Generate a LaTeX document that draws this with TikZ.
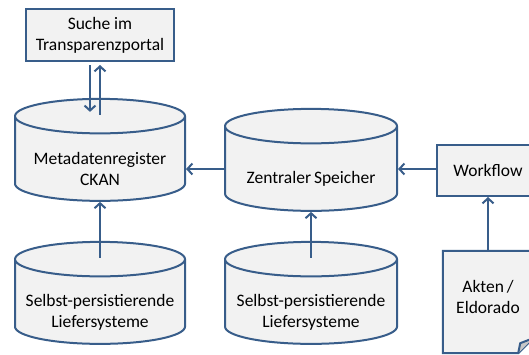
\documentclass[tikz,border=0pt]{standalone}
\usepackage{fontspec}
\setmainfont{Carlito}
\usetikzlibrary{arrows.meta,positioning,shapes.geometric,calc,backgrounds}

\definecolor{linie}{RGB}{56,93,138}
\definecolor{fuell}{RGB}{242,242,242}
\definecolor{falz}{RGB}{200,200,200}

\tikzset{
  box/.style={draw=linie,line width=2pt,fill=fuell,align=center,inner sep=0pt},
  db/.style={cylinder,shape border rotate=90,aspect=0.23,draw=linie,line width=2pt,
    fill=fuell,minimum width=170pt,minimum height=102pt,inner sep=0pt},
  dbtext/.style={align=center,yshift=-10pt},
  pfeil/.style={draw=linie,line width=2pt,-{Straight Barb[length=5pt,width=11pt,line width=2pt]}},
}
\newcommand{\dbbreite}{\rule{150pt}{0pt}}

\begin{document}
\begin{tikzpicture}[x=1pt,y=-1pt,font=\fontsize{17.5}{21}\selectfont]
\clip (0,0) rectangle (529,354);
\useasboundingbox (0,0) rectangle (529,354);
\node[box,minimum width=148pt,minimum height=52pt] (suche) at (100,35) {Suche im\\Transparenzportal};
\node[db,label={[dbtext]center:Metadatenregister\\CKAN}] (meta) at (100,159) {\dbbreite};
\node[db,minimum width=172pt,label={[dbtext]center:Zentraler\,Speicher}] (zentral) at (311,169) {\dbbreite};
\node[box,minimum width=102pt,minimum height=51pt] (workflow) at (488,170.5) {Workflow};
\node[db,label={[dbtext]center:Selbst-persistierende\\Liefersysteme}] (lief1) at (100,302) {\dbbreite};
\node[db,minimum width=172pt,label={[dbtext]center:Selbst-persistierende\\Liefersysteme}] (lief2) at (311,302) {\dbbreite};
\node[align=center,minimum width=90pt,minimum height=92pt] (akten) at (488,297) {Akten\,/\\Eldorado};
% Dokument mit Eselsohr
\begin{scope}[on background layer]
\draw[draw=linie,line width=2pt,fill=fuell] (akten.north west) -- (akten.north east)
  -- ([yshift=5pt]akten.south east) coordinate (ecke1)
  -- ([xshift=-15pt,yshift=-10pt]akten.south east) coordinate (ecke2)
  -- ([yshift=-10pt]akten.south west) -- cycle;
\end{scope}
\draw[draw=linie,line width=2pt,fill=falz,line join=round] (ecke2) -- ([xshift=-13pt]akten.south east) -- (ecke1);
\coordinate (metatop) at ([yshift=-17pt]meta.north);
\coordinate (lief1top) at ([yshift=-17pt]lief1.north);
\coordinate (lief2top) at ([yshift=-17pt]lief2.north);
% Pfeile
\draw[pfeil,shorten <=3pt,shorten >=3pt] ([xshift=-10pt]suche.south) -- ([xshift=-10pt]metatop);
\draw[pfeil,shorten >=3pt] (metatop) -- (suche.south);
\draw[pfeil] (zentral.west) -- (zentral.west -| meta.east);
\draw[pfeil] (workflow.west |- zentral.east) -- (zentral.east);
\draw[pfeil] (akten.north) -- (workflow.south);
\draw[pfeil] (lief1top) -- (meta.south);
\draw[pfeil] (lief2top) -- (zentral.south);
\end{tikzpicture}
\end{document}
